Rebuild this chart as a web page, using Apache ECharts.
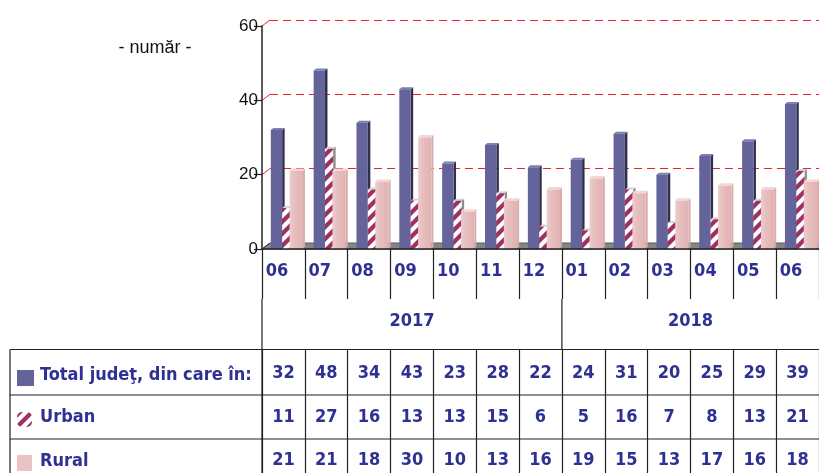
<!DOCTYPE html>
<html>
<head>
<meta charset="utf-8">
<script src="https://cdn.jsdelivr.net/npm/echarts@6/dist/echarts.min.js"></script>
<style>
  html, body { margin: 0; padding: 0; background: #fff; }
  #chart { width: 819px; height: 473px; }
</style>
</head>
<body>
<div id="chart"></div>
<script>
// data
var months = ['06', '07', '08', '09', '10', '11', '12', '01', '02', '03', '04', '05', '06'];
var years = ['2017', '2018'];
var yearFirstMonth = [0, 7];
var totalJudet = [32, 48, 34, 43, 23, 28, 22, 24, 31, 20, 25, 29, 39];
var urban = [11, 27, 16, 13, 13, 15, 6, 5, 16, 7, 8, 13, 21];
var rural = [21, 21, 18, 30, 10, 13, 16, 19, 15, 13, 17, 16, 18];
var seriesNames = ['Total judeţ, din care în:', 'Urban', 'Rural'];
var yMax = 60, yStep = 20;

var BLUE = '#2e3192';
var FONT = '"Liberation Sans Narrow", "DejaVu Sans Condensed", Arial, sans-serif';

// striped fill for Urban
var tile = document.createElement('canvas');
tile.width = 12; tile.height = 12;
var c = tile.getContext('2d');
c.fillStyle = '#ffffff';
c.fillRect(0, 0, 12, 12);
c.strokeStyle = '#9e3163';
c.lineWidth = 4.2;
for (var k = -1; k <= 1; k++) {
	c.beginPath();
	c.moveTo(k * 12 - 2, 14);
	c.lineTo(k * 12 + 14, -2);
	c.stroke();
}
var stripes = { image: tile, repeat: 'repeat' };

var barStyle = [
	{ f0: 0.205, f1: 0.47, dx: 2.5, dy: 2, front: '#64649a', side: '#30304e', top: '#7e7eb2' },
	{ f0: 0.47, f1: 0.66, dx: 2.5, dy: 2, front: stripes, side: '#8c8c8c', top: '#d4d4d4' },
	{ f0: 0.645, f1: 0.955, dx: 2, dy: 2.5,
	  front: { type: 'linear', x: 0, y: 0, x2: 1, y2: 0, colorStops: [
		{ offset: 0, color: '#efcccc' }, { offset: 0.35, color: '#e8bebe' }, { offset: 1, color: '#e0b3b3' }] },
	  side: '#d9abab', top: '#f3d6d6' }
];

function bar3d(s) {
	return function (params, api) {
		var idx = api.value(0);
		var top = api.coord([idx, api.value(1)]);
		var base = api.coord([idx, 0]);
		var bw = api.size([1, 0])[0];
		var left = base[0] - bw / 2;
		var x0 = left + bw * s.f0, x1 = left + bw * s.f1;
		var yt = top[1], yb = base[1];
		return {
			type: 'group',
			children: [
				{ type: 'polygon', shape: { points: [[x1, yt], [x1 + s.dx, yt - s.dy], [x1 + s.dx, yb - s.dy], [x1, yb]] },
				  style: { fill: s.side } },
				{ type: 'polygon', shape: { points: [[x0, yt], [x0 + s.dx, yt - s.dy], [x1 + s.dx, yt - s.dy], [x1, yt]] },
				  style: { fill: s.top } },
				{ type: 'rect', shape: { x: x0, y: yt, width: x1 - x0, height: yb - yt },
				  style: { fill: s.front } }
			]
		};
	};
}

function pairs(arr) {
	return arr.map(function (v, i) { return [i, v]; });
}

function rowAxis(values, offset, margin, tickLen) {
	return {
		type: 'category', gridIndex: 0, position: 'bottom', offset: offset,
		data: values.map(String),
		axisLine: { show: false },
		axisTick: { show: true, interval: 0, length: tickLen, lineStyle: { color: '#222', width: 1.2 } },
		axisLabel: { interval: 0, margin: margin, color: BLUE, fontFamily: FONT, fontWeight: 'bold', fontSize: 18 },
		z: 3
	};
}

var myChart = echarts.init(document.getElementById('chart'));

var option = {
	animation: false,
	grid: [
		{ left: 262, right: -2, top: 26, bottom: 224 },
		{ left: 270, right: -10, top: 20, bottom: 230 }
	],
	xAxis: [
		{
			type: 'category', gridIndex: 0, position: 'bottom', data: months,
			axisLine: { show: true, lineStyle: { color: '#222', width: 1.5 } },
			axisTick: { show: true, interval: 0, length: 50, lineStyle: { color: '#222', width: 1.2 } },
			axisLabel: { interval: 0, margin: 13, padding: [0, 13, 0, 0], color: BLUE, fontFamily: FONT, fontWeight: 'bold', fontSize: 18 },
			z: 3
		},
		rowAxis(totalJudet, 100.5, 14.5, 45.5),
		rowAxis(urban, 146, 13, 44),
		rowAxis(rural, 190, 12.5, 40),
		{ type: 'category', gridIndex: 1, data: months, show: false }
	],
	yAxis: [
		{
			type: 'value', gridIndex: 0, min: 0, max: yMax, interval: yStep,
			axisLine: { show: true, lineStyle: { color: '#222', width: 1.5 } },
			axisTick: { show: true, length: 8, lineStyle: { color: '#222', width: 1.2 } },
			axisLabel: { margin: 4, color: '#111', fontFamily: 'Liberation Sans, Arial, sans-serif', fontSize: 17 },
			splitLine: { show: false },
			z: 3
		},
		{
			type: 'value', gridIndex: 1, min: 0, max: yMax, interval: yStep,
			axisLine: { show: false }, axisTick: { show: false }, axisLabel: { show: false },
			splitLine: { show: true, lineStyle: { color: '#e8262a', width: 1.2, type: [8, 5] } }
		}
	],
	series: [
		{ type: 'custom', name: seriesNames[0], xAxisIndex: 0, yAxisIndex: 0, z: 2, renderItem: bar3d(barStyle[0]), data: pairs(totalJudet) },
		{ type: 'custom', name: seriesNames[1], xAxisIndex: 0, yAxisIndex: 0, z: 2, renderItem: bar3d(barStyle[1]), data: pairs(urban) },
		{ type: 'custom', name: seriesNames[2], xAxisIndex: 0, yAxisIndex: 0, z: 2, renderItem: bar3d(barStyle[2]), data: pairs(rural) }
	]
};
myChart.setOption(option);

// floor, depth lines, year row, table frame and row titles
function px(i, v) {
	return myChart.convertToPixel({ xAxisIndex: 0, yAxisIndex: 0 }, [i, v]);
}
var c0 = px(0, 0), c1 = px(1, 0);
var bw = c1[0] - c0[0];
var L = c0[0] - bw / 2;
var R = L + bw * months.length;
var y0 = c0[1];
var DX = 8, DY = 6;
var lineStyle = { stroke: '#222', lineWidth: 1.2 };

var g = [];
g.push({ type: 'polygon', z: 1, shape: { points: [[L, y0], [L + DX, y0 - DY], [R + DX, y0 - DY], [R, y0]] },
	style: { fill: '#858585', stroke: '#5a5a5a', lineWidth: 1 } });
g.push({ type: 'line', z: 1, shape: { x1: L, y1: y0, x2: L + DX, y2: y0 - DY }, style: { stroke: '#333', lineWidth: 1 } });
for (var v = yStep; v <= yMax; v += yStep) {
	var yy = px(0, v)[1];
	g.push({ type: 'line', z: 1, shape: { x1: L, y1: yy, x2: L + DX, y2: yy - DY }, style: { stroke: '#e8262a', lineWidth: 1 } });
}

var rowTop = [y0 + 100.5, y0 + 146, y0 + 190];
var rowMid = [375, 417, 461];

// years
for (var j = 0; j < years.length; j++) {
	var a = yearFirstMonth[j];
	var b = j + 1 < years.length ? yearFirstMonth[j + 1] : months.length;
	var xa = L + bw * a, xb = Math.min(L + bw * b, R);
	g.push({ type: 'text', style: { text: years[j], x: (xa + xb) / 2, y: 321, align: 'center', verticalAlign: 'middle',
		fill: BLUE, font: 'bold 18px ' + FONT } });
	if (a > 0) {
		g.push({ type: 'line', shape: { x1: xa, y1: y0 + 50, x2: xa, y2: rowTop[0] }, style: lineStyle });
	}
}
g.push({ type: 'line', shape: { x1: L, y1: y0 + 50, x2: L, y2: 473 }, style: lineStyle });
g.push({ type: 'line', shape: { x1: 10, y1: rowTop[0], x2: 10, y2: 473 }, style: lineStyle });
for (var r = 0; r < rowTop.length; r++) {
	g.push({ type: 'line', shape: { x1: 10, y1: rowTop[r], x2: 819, y2: rowTop[r] }, style: lineStyle });
	g.push({ type: 'text', style: { text: seriesNames[r], x: 40, y: rowMid[r], verticalAlign: 'middle',
		fill: BLUE, font: 'bold 18px ' + FONT } });
}
g.push({ type: 'rect', shape: { x: 17, y: 370, width: 17, height: 16 }, style: { fill: '#64649a' } });
g.push({ type: 'rect', shape: { x: 17, y: 412, width: 15, height: 15, r: 5 }, style: { fill: stripes } });
g.push({ type: 'rect', shape: { x: 17, y: 455, width: 15, height: 16 }, style: { fill: '#eac3c3' } });

g.push({ type: 'text', style: { text: '- număr -', x: 155, y: 48, align: 'center', verticalAlign: 'middle',
	fill: '#111', font: '18px "Liberation Sans", Arial, sans-serif' } });

myChart.setOption({ graphic: { elements: g } });
</script>
</body>
</html>
